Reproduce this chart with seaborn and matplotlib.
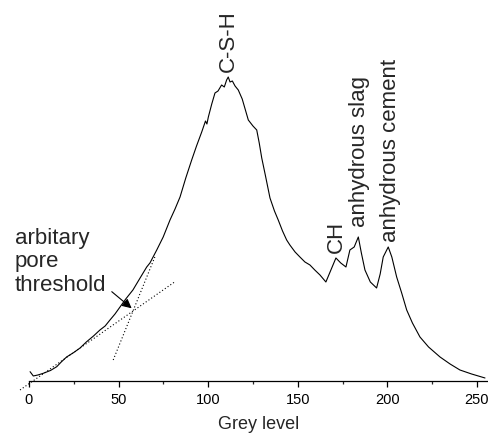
"""Grey level histogram of a BSE image with phase peaks and pore threshold."""

import matplotlib.pyplot as plt
import seaborn as sns

# histogram (frequency in arbitrary units)
GREY_LEVEL = [
    0.6, 2.4, 5, 8, 12, 15.5, 18, 21, 25, 28.5, 32, 36, 39.6, 42.5, 45.2,
    48, 50.8, 54, 58, 62, 65.7, 67.5, 71.3, 74.9, 78.7, 81.5, 84.3, 87.5,
    90.8, 93.5, 96.4, 98.5, 99.3, 100.1, 102, 103.8, 105.5, 107.5, 109,
    110.3, 111.2, 112.2, 113.5, 115, 116.8, 119, 122.4, 125, 127.1, 128.5,
    129.9, 132, 134.5, 137, 139.1, 141.5, 143.8, 145.6, 148.5, 151.2, 154,
    156.8, 159.5, 162.4, 165.7, 168.5, 171.3, 174, 176.9, 179.1, 181.5,
    183.8, 185.5, 187.5, 190.5, 194.0, 196, 197.7, 200.5, 202.5, 205.2,
    208, 210.8, 214, 218.2, 223, 229.4, 235, 240.5, 247, 254.5,
]
FREQUENCY = [
    9.3, 5, 6, 7.7, 10.5, 14.3, 19, 24, 28.5, 33, 39, 45, 51, 55, 61,
    67, 74, 82, 91, 103, 114, 118, 131, 144, 161, 172, 184, 203,
    221, 235, 249, 260, 257, 264, 277, 288, 290, 296, 294,
    301, 304, 299, 300, 295, 291, 282, 261, 255, 251, 238,
    223, 205, 183, 170, 161, 150, 141, 136, 129, 124, 119,
    116, 111, 106, 99, 111, 123, 118, 114, 131, 134,
    144, 128, 111, 99, 93, 107, 124, 134, 124, 104,
    88, 71, 58, 44, 34, 24, 17, 11, 7, 3,
]

# two tangents whose crossing defines the pore threshold
TANGENT_LOW_X = [-5, 81.5]
TANGENT_LOW_Y = [-9, 99.3]
TANGENT_HIGH_X = [47, 70.3]
TANGENT_HIGH_Y = [21, 124.3]

PEAK_LABELS = ["C-S-H", "CH", "anhydrous slag", "anhydrous cement"]
PEAK_X = [111, 171.6, 184.2, 201.7]
PEAK_LABEL_Y = [309, 128, 154, 139]


def main() -> None:
    sns.set_theme(style="white")
    plt.rcParams["font.family"] = ["Liberation Sans", "DejaVu Sans"]

    fig = plt.figure(figsize=(4.89, 4.41), dpi=100)
    ax = fig.add_axes([0.0593, 0.1361, 0.938, 0.8639])

    sns.lineplot(x=GREY_LEVEL, y=FREQUENCY, ax=ax, color="black",
                 linewidth=0.8, sort=False)
    for xs, ys in [(TANGENT_LOW_X, TANGENT_LOW_Y),
                   (TANGENT_HIGH_X, TANGENT_HIGH_Y)]:
        ax.plot(xs, ys, color="black", linewidth=0.8, linestyle=(0, (1, 2)),
                clip_on=False)

    for label, x, y in zip(PEAK_LABELS, PEAK_X, PEAK_LABEL_Y):
        ax.text(x, y, label, rotation=90, ha="center", va="bottom",
                fontsize=16)

    ax.text(-7.8, 153, "arbitary\npore\nthreshold", ha="left", va="top",
            fontsize=16, linespacing=1.15)
    ax.annotate("", xy=(57.3, 72.7), xytext=(46.2, 89.3),
                arrowprops=dict(arrowstyle="-|>", color="black", lw=0.8,
                                mutation_scale=14, shrinkA=0, shrinkB=0))

    ax.set_xlim(0, 256)
    ax.set_ylim(0, 381)
    ax.set_xticks(range(0, 251, 50))
    ax.set_xticks(range(25, 251, 50), minor=True)
    ax.set_yticks([])
    ax.tick_params(axis="x", which="major", direction="out", bottom=True,
                   length=4, width=0.9, labelsize=10.5, pad=5,
                   colors="black")
    ax.tick_params(axis="x", which="minor", direction="out", bottom=True,
                   length=2.5, width=0.9)
    ax.set_xlabel("Grey level", fontsize=13, labelpad=6)
    for side in ["left", "right", "top"]:
        ax.spines[side].set_visible(False)
    ax.spines["bottom"].set_color("black")
    ax.spines["bottom"].set_linewidth(0.9)

    fig.savefig("out.png", dpi=100)
    plt.close(fig)


if __name__ == "__main__":
    main()
